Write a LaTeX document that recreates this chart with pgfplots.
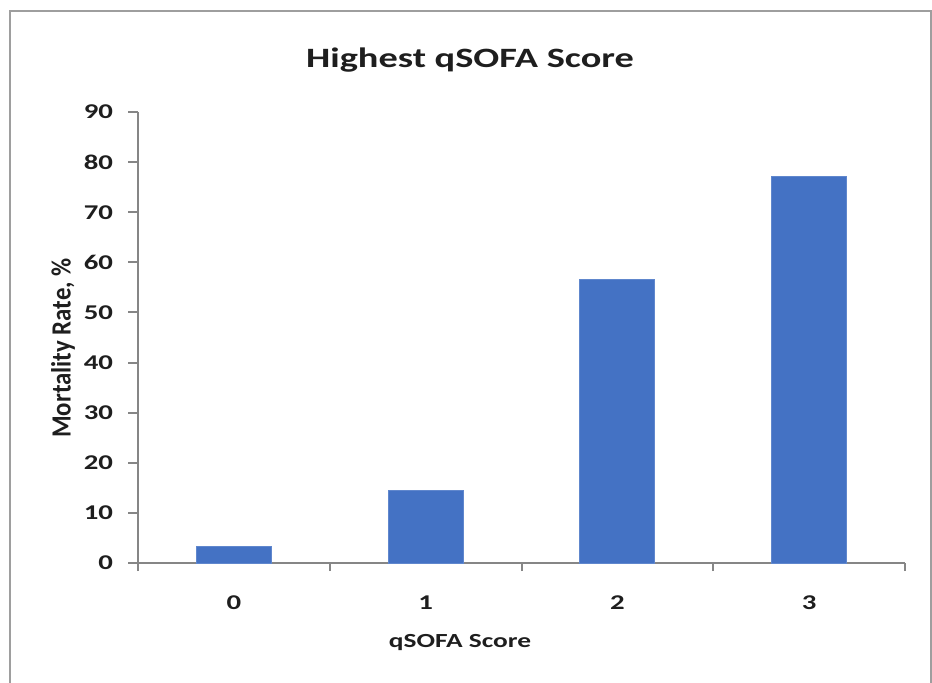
\documentclass[border=0pt]{standalone}
\usepackage{fontspec}
\setmainfont{Carlito}[FakeStretch=1.37]
\newfontfamily\plainfont{Carlito}
\usepackage{pgfplots}
\pgfplotsset{compat=1.18}
\definecolor{barblue}{RGB}{68,114,196}
\definecolor{axgray}{RGB}{134,134,134}
\definecolor{txt}{RGB}{30,30,30}
\begin{document}
\begin{tikzpicture}
% page is 932 x 682 px, 1 px = 0.5pt
\path[use as bounding box] (0,0) rectangle (466pt,341pt);
\draw[color=axgray!80, line width=1pt] (5pt,-2pt) -- (5pt,335.5pt) -- (465.5pt,335.5pt) -- (465.5pt,-2pt);
\node[font=\bfseries\fontsize{14}{16}\selectfont, text=txt] at (235pt,311pt) {Highest qSOFA Score};
\node[font=\bfseries\fontsize{10}{12}\selectfont, text=txt] at (230pt,19.5pt) {qSOFA Score};
\node[font=\plainfont\bfseries\fontsize{12.4}{14}\selectfont, text=txt, rotate=90] at (31.5pt,167pt) {\scalebox{1}[1.12]{Mortality Rate, \%}};
\begin{axis}[
    at={(69pt,59.5pt)}, anchor=south west,
    scale only axis,
    width=383.5pt, height=225.5pt,
    xmin=-0.5, xmax=3.5,
    ymin=0, ymax=90,
    axis lines*=left,
    axis line style={color=axgray, line width=1pt, -},
    ytick={0,10,...,90},
    xtick={0,1,2,3},
    xticklabels={0,1,2,3},
    minor xtick={-0.5,0.5,1.5,2.5,3.5},
    major x tick style={draw=none},
    minor x tick style={color=axgray, line width=1pt},
    y tick style={color=axgray, line width=1pt},
    tick align=outside,
    major tick length=5pt,
    minor tick length=4pt,
    tick label style={font=\bfseries\fontsize{10.5}{12}\selectfont, text=txt},
    /pgf/number format/assume math mode=true,
    yticklabel style={xshift=-4pt},
    xticklabel style={yshift=-8pt},
    clip=false,
]
\addplot[ybar, bar width=37.5pt, fill=barblue, draw=barblue!85!white]
    coordinates {(0,3.3) (1,14.5) (2,56.6) (3,77.2)};
\end{axis}
\end{tikzpicture}
\end{document}
